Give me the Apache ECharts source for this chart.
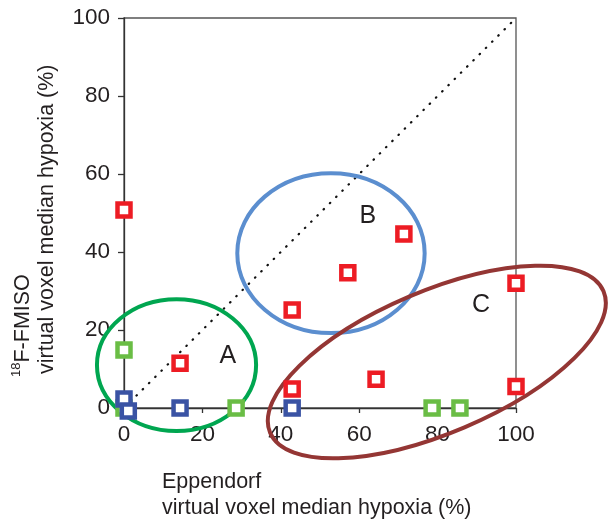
<!DOCTYPE html>
<html>
<head>
<meta charset="utf-8">
<script src="https://cdn.jsdelivr.net/npm/echarts@6/dist/echarts.min.js"></script>
<style>html,body{margin:0;padding:0;background:#fff}#c{width:608px;height:522px}</style>
</head>
<body>
<div id="c"></div>
<script>
// ---- data ----
const xTicks = [0, 20, 40, 60, 80, 100];
const yTicks = [0, 20, 40, 60, 80, 100];
const redX = [0, 14.3, 42.9, 57.1, 71.4, 42.9, 64.3, 100, 100];
const redY = [50.8, 11.5, 25.1, 34.7, 44.6, 4.9, 7.4, 32.0, 5.5];
const greenX = [0, 0, 28.6, 78.6, 85.7];
const greenY = [14.9, 0, 0, 0, 0];
const blueX = [0, 1.1, 14.3, 42.9];
const blueY = [2.3, -0.8, 0, 0];
const groupNames = ['A', 'B', 'C'];

// ---- annotation geometry (data units) ----
const ellipses = [
  [13.4, 11.0, 20.3, 16.9, 0],
  [52.8, 39.7, 23.9, 20.5, 0],
  [79.8, 11.8, 46.2, 18.2, 23]
];
const ellipseColors = ['#00a650', '#5b8ecf', '#943634'];
const groupLabelPos = [[26.5, 13.3], [62.2, 49.1], [91.1, 26.4]];

const FONT = 'Liberation Sans, Arial, sans-serif';
const TXT = '#231f20';
const zip = (xs, ys) => xs.map((x, i) => [x, ys[i]]);

const chart = echarts.init(document.getElementById('c'), null, {renderer: 'canvas'});
const sq = (color) => ({
  type: 'scatter', symbol: 'rect', symbolSize: 13, clip: false, z: 5,
  itemStyle: {color: '#ffffff', borderColor: color, borderWidth: 4.5, opacity: 1},
  emphasis: {disabled: true}
});

chart.setOption({
  animation: false,
  backgroundColor: '#ffffff',
  grid: {left: 124, top: 18, width: 392, height: 390, show: true, borderColor: '#555', borderWidth: 1.3, backgroundColor: 'transparent'},
  xAxis: {
    type: 'value', min: xTicks[0], max: xTicks[xTicks.length - 1], interval: 20,
    splitLine: {show: false},
    axisLine: {show: true, onZero: false, lineStyle: {color: '#333', width: 1.3}},
    axisTick: {show: true, length: 5, lineStyle: {color: '#333', width: 1.3}},
    axisLabel: {margin: 15, fontSize: 22.5, fontFamily: FONT, color: TXT}
  },
  yAxis: {
    type: 'value', min: yTicks[0], max: yTicks[yTicks.length - 1], interval: 20,
    splitLine: {show: false},
    axisLine: {show: true, onZero: false, lineStyle: {color: '#333', width: 1.3}},
    axisTick: {show: true, length: 6, lineStyle: {color: '#333', width: 1.3}},
    axisLabel: {margin: 14, fontSize: 22.5, fontFamily: FONT, color: TXT}
  },
  series: [
    {
      type: 'line', data: [[0, 0], [100, 100]], symbol: 'none', z: 1,
      lineStyle: {color: '#111', width: 2.2, type: [0.5, 8.3], cap: 'round'},
      emphasis: {disabled: true}
    },
    {
      type: 'custom', clip: false, z: 2,
      data: ellipses,
      renderItem: function (params, api) {
        const c = api.coord([api.value(0), api.value(1)]);
        const s = api.size([api.value(2), api.value(3)]);
        return {
          type: 'ellipse', x: c[0], y: c[1], rotation: api.value(4) * Math.PI / 180,
          shape: {cx: 0, cy: 0, rx: s[0], ry: s[1]},
          style: {fill: 'none', stroke: ellipseColors[params.dataIndex], lineWidth: 4}
        };
      }
    },
    {
      type: 'custom', clip: false, z: 3,
      data: groupLabelPos.map((p, i) => [p[0], p[1], i]),
      renderItem: function (params, api) {
        const c = api.coord([api.value(0), api.value(1)]);
        return {
          type: 'text', x: c[0], y: c[1],
          style: {text: groupNames[params.dataIndex], fontSize: 25, fontFamily: FONT, fill: TXT, align: 'center', verticalAlign: 'middle'}
        };
      }
    },
    Object.assign(sq('#ed1c24'), {data: zip(redX, redY)}),
    Object.assign(sq('#6abd45'), {data: zip(greenX, greenY)}),
    Object.assign(sq('#3a53a4'), {data: zip(blueX, blueY)})
  ],
  graphic: [
    {
      type: 'text', x: 22, y: 377, rotation: Math.PI / 2,
      style: {
        text: '{s|18}{m|F-FMISO}', align: 'left', verticalAlign: 'middle',
        fontSize: 21.5, fontFamily: FONT, fill: TXT,
        rich: {
          s: {fontSize: 13, fontFamily: FONT, fill: TXT, verticalAlign: 'top', lineHeight: 24},
          m: {fontSize: 21.5, fontFamily: FONT, fill: TXT, verticalAlign: 'bottom', lineHeight: 24}
        }
      }
    },
    {
      type: 'text', x: 47, y: 374, rotation: Math.PI / 2,
      style: {text: 'virtual voxel median hypoxia (%)', align: 'left', verticalAlign: 'middle', fontSize: 21.5, fontFamily: FONT, fill: TXT}
    },
    {
      type: 'text', x: 162, y: 482,
      style: {text: 'Eppendorf', align: 'left', verticalAlign: 'middle', fontSize: 21.5, fontFamily: FONT, fill: TXT}
    },
    {
      type: 'text', x: 162, y: 508,
      style: {text: 'virtual voxel median hypoxia (%)', align: 'left', verticalAlign: 'middle', fontSize: 21.5, fontFamily: FONT, fill: TXT}
    }
  ]
});
</script>
</body>
</html>
